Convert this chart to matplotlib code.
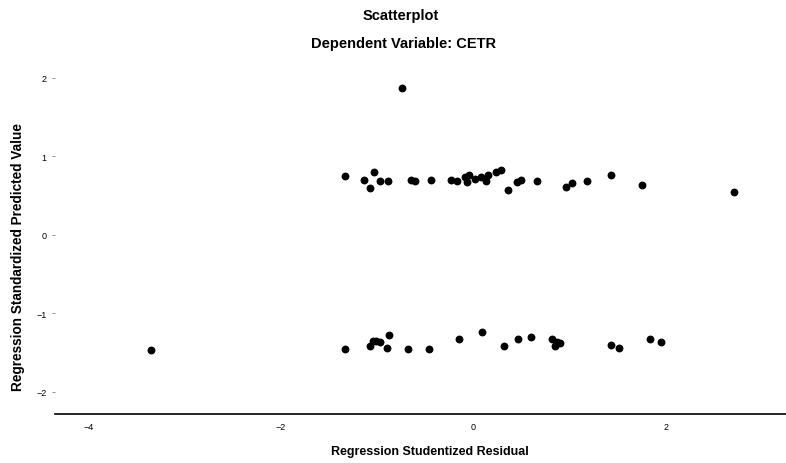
import matplotlib
matplotlib.use('Agg')
import matplotlib.pyplot as plt

plt.rcParams['font.family'] = ['Liberation Sans', 'DejaVu Sans']

# 위쪽 무리 (예측값 약 0.7)
upper_x = [-1.33, -1.14, -1.03, -1.07, -0.97, -0.89, -0.65, -0.61, -0.44, -0.23,
           -0.17, -0.09, -0.05, -0.07, 0.02, 0.08, 0.15, 0.13, 0.24, 0.29,
           0.36, 0.45, 0.49, 0.66, 0.96, 1.03, 1.18, 1.43, 1.75, 2.71, -0.74]
upper_y = [0.75, 0.70, 0.80, 0.60, 0.69, 0.69, 0.70, 0.69, 0.70, 0.70,
           0.69, 0.74, 0.76, 0.67, 0.71, 0.74, 0.76, 0.69, 0.80, 0.83,
           0.57, 0.67, 0.70, 0.69, 0.61, 0.66, 0.69, 0.76, 0.63, 0.55, 1.87]

# 아래쪽 무리 (예측값 약 -1.4)
lower_x = [-3.35, -1.34, -1.08, -1.04, -1.01, -0.97, -0.90, -0.88, -0.68, -0.46,
           -0.15, 0.09, 0.32, 0.46, 0.60, 0.82, 0.87, 0.85, 0.90, 1.43,
           1.51, 1.84, 1.95]
lower_y = [-1.47, -1.46, -1.42, -1.35, -1.35, -1.37, -1.44, -1.28, -1.46, -1.46,
           -1.33, -1.24, -1.42, -1.33, -1.30, -1.33, -1.37, -1.42, -1.38, -1.40,
           -1.44, -1.33, -1.37]

x_ticks = [-4, -2, 0, 2]
y_ticks = [-2, -1, 0, 1, 2]

fig = plt.figure(figsize=(7.86, 4.64), dpi=100)
ax = fig.add_axes([0.07, 0.106, 0.93, 0.775])

ax.scatter(upper_x + lower_x, upper_y + lower_y, s=32, color='black', linewidths=0)

ax.set_xlim(-4.35, 3.25)
ax.set_ylim(-2.28, 2.3)
ax.set_xticks(x_ticks)
ax.set_yticks(y_ticks)
ax.tick_params(axis='x', length=0, pad=6, labelsize=6.5)
ax.tick_params(axis='y', length=2, width=0.6, pad=4, labelsize=6.5, color='gray')

for s in ['top', 'right', 'left']:
    ax.spines[s].set_visible(False)
ax.spines['bottom'].set_linewidth(1.2)

ax.set_xlabel('Regression Studentized Residual', fontsize=9, fontweight='bold')
ax.set_ylabel('Regression Standardized Predicted Value', fontsize=9.8, fontweight='bold')
# 축 제목 위치 (원본에 맞춤)
ax.xaxis.set_label_coords(0.513, -0.088)
ax.yaxis.set_label_coords(-0.041, 0.44)

fig.text(0.51, 0.965, 'Scatterplot', ha='center', va='center', fontsize=10.5, fontweight='bold')
fig.text(0.513, 0.905, 'Dependent Variable: CETR', ha='center', va='center', fontsize=10.5, fontweight='bold')

fig.savefig('out.png', dpi=100)
